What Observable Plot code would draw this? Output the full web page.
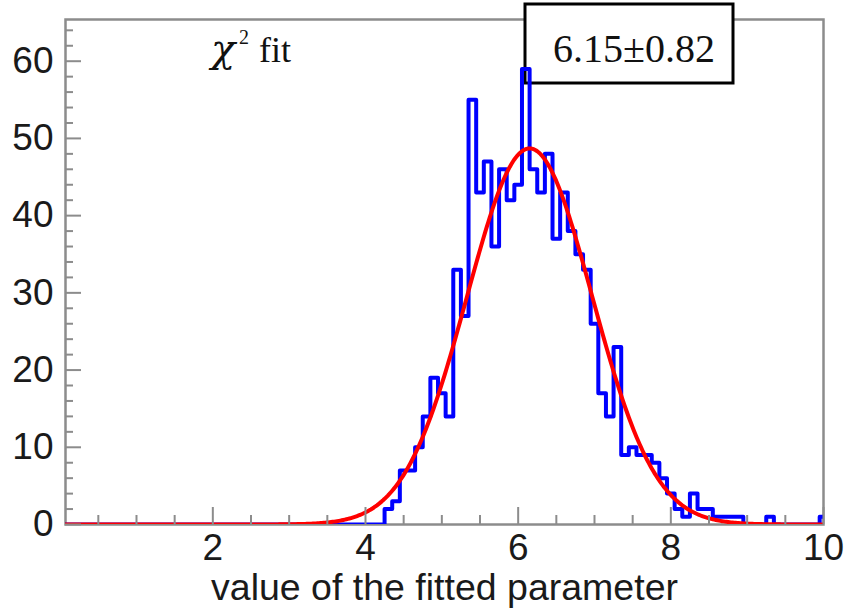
<!DOCTYPE html>
<html>
<head>
<meta charset="utf-8">
<script src="https://cdn.jsdelivr.net/npm/d3@7"></script>
<script src="https://cdn.jsdelivr.net/npm/@observablehq/plot@0.6"></script>
<style>
  html, body { margin: 0; padding: 0; background: #fff; }
  #chart { width: 844px; height: 614px; }
</style>
</head>
<body>
<div id="chart"></div>
<script>
// Histogram of the fitted parameter: 0.1-wide bins centred on multiples of 0.1
const binWidth = 0.1;
const firstFilledBin = 4.3;          // centre of the first non-empty bin
const counts = [
  2, 3, 7, 7, 10, 14, 19, 17, 14, 33,      // 4.3 – 5.2
  27, 55, 43, 47, 36, 46, 42, 44, 59, 46,  // 5.3 – 6.2
  43, 48, 37, 43, 38, 35, 33, 26, 17, 14,  // 6.3 – 7.2
  23, 9, 10, 9, 9, 8, 6, 4, 2, 1,          // 7.3 – 8.2
  4, 2, 2, 1, 1, 1, 1, 0, 0, 0,            // 8.3 – 9.2
  1, 0, 0, 0, 0, 0, 0, 1                   // 9.3 – 10.0
];

// Gaussian fit result (mean ± sigma) and its peak height
const fitMean = 6.15;
const fitSigma = 0.82;
const fitPeak = 48.7;

// Axis ticks and labels
const xDomain = [0.07, 10];
const yDomain = [0, 65.4];
const xMajor = [2, 4, 6, 8, 10];
const xMinor = [0.5, 1, 1.5, 2.5, 3, 3.5, 4.5, 5, 5.5, 6.5, 7, 7.5, 8.5, 9, 9.5];
const yMajor = [0, 10, 20, 30, 40, 50, 60];
const yMinor = [2, 4, 6, 8, 12, 14, 16, 18, 22, 24, 26, 28, 32, 34, 36, 38, 42, 44, 46, 48, 52, 54, 56, 58, 62, 64];
const xTitle = "value of the fitted parameter";
const fitLabel = "fit";

// Step outline: one point per bin's left edge, plus the closing right edge
const nBins = 101;                    // centres 0.0 … 10.0
const firstIndex = Math.round(firstFilledBin / binWidth);
const steps = [];
for (let i = 0; i < nBins; i++) {
  const j = i - firstIndex;
  steps.push({x: i * binWidth - binWidth / 2, y: j >= 0 && j < counts.length ? counts[j] : 0});
}
steps.push({x: (nBins - 0.5) * binWidth, y: steps[steps.length - 1].y});

// Fitted Gaussian sampled across the axis range
const fitCurve = d3.range(xDomain[0], xDomain[1] + 1e-9, 0.02).map(x => ({
  x, y: fitPeak * Math.exp(-0.5 * ((x - fitMean) / fitSigma) ** 2)
}));

// Layout
const W = 844, H = 614, mL = 65, mR = 21, mT = 19, mB = 90;
const innerW = W - mL - mR, innerH = H - mT - mB;
const axisGray = "#8c8c8c";
const sans = "'Liberation Sans', Arial, Helvetica, sans-serif";
const serif = "'Liberation Serif', 'Times New Roman', serif";

// Result box with the fitted mean ± sigma
function fitBox() {
  const g = d3.create("svg:g");
  g.append("rect")
    .attr("x", 525).attr("y", 4).attr("width", 208).attr("height", 79)
    .attr("fill", "#fff").attr("stroke", "#000").attr("stroke-width", 3);
  g.append("text")
    .attr("x", 634).attr("y", 62)
    .attr("text-anchor", "middle")
    .style("font-family", serif).style("font-size", "40px").attr("fill", "#111")
    .text(`${fitMean.toFixed(2)}±${fitSigma.toFixed(2)}`);
  return g.node();
}

// "χ² fit" heading inside the frame
function chiLabel() {
  const g = d3.create("svg:g").attr("fill", "#111").attr("text-anchor", "start");
  g.append("text").attr("x", 211).attr("y", 62)
    .style("font-family", "'DejaVu Serif', serif").style("font-style", "italic").style("font-size", "40px")
    .text("χ");
  g.append("text").attr("x", 239).attr("y", 44)
    .style("font-family", serif).style("font-size", "20px")
    .text("2");
  g.append("text").attr("x", 259).attr("y", 62)
    .style("font-family", serif).style("font-size", "36px")
    .text(fitLabel);
  return g.node();
}

const chart = Plot.plot({
  width: W, height: H,
  marginLeft: mL, marginRight: mR, marginTop: mT, marginBottom: mB,
  style: {fontFamily: sans, fontSize: "36px", color: "#1a1a1a", background: "#fff", overflow: "visible"},
  x: {domain: xDomain},
  y: {domain: yDomain},
  marks: [
    Plot.frame({stroke: axisGray, strokeWidth: 2.5}),
    fitBox,
    Plot.line(steps, {x: "x", y: "y", curve: "step-after", stroke: "#0000ff", strokeWidth: 4, clip: true}),
    Plot.line(fitCurve, {x: "x", y: "y", stroke: "#ff0000", strokeWidth: 4, clip: true}),
    Plot.tickX(xMinor, {x: d => d, insetTop: innerH - 9, stroke: axisGray, strokeWidth: 2}),
    Plot.tickX(xMajor, {x: d => d, insetTop: innerH - 17, stroke: axisGray, strokeWidth: 2}),
    Plot.tickY(yMinor, {y: d => d, insetRight: innerW - 8, stroke: axisGray, strokeWidth: 2}),
    Plot.tickY(yMajor, {y: d => d, insetRight: innerW - 16, stroke: axisGray, strokeWidth: 2}),
    Plot.axisX({ticks: xMajor, tickSize: 0, tickPadding: 9, label: null, fontSize: 37}),
    Plot.axisY({ticks: yMajor, tickSize: 0, tickPadding: 12, label: null, fontSize: 37}),
    Plot.text([xTitle], {text: d => d, frameAnchor: "bottom", dy: 75, fontSize: 37.5, fill: "#1a1a1a"}),
    chiLabel
  ]
});

document.getElementById("chart").appendChild(chart);
</script>
</body>
</html>
